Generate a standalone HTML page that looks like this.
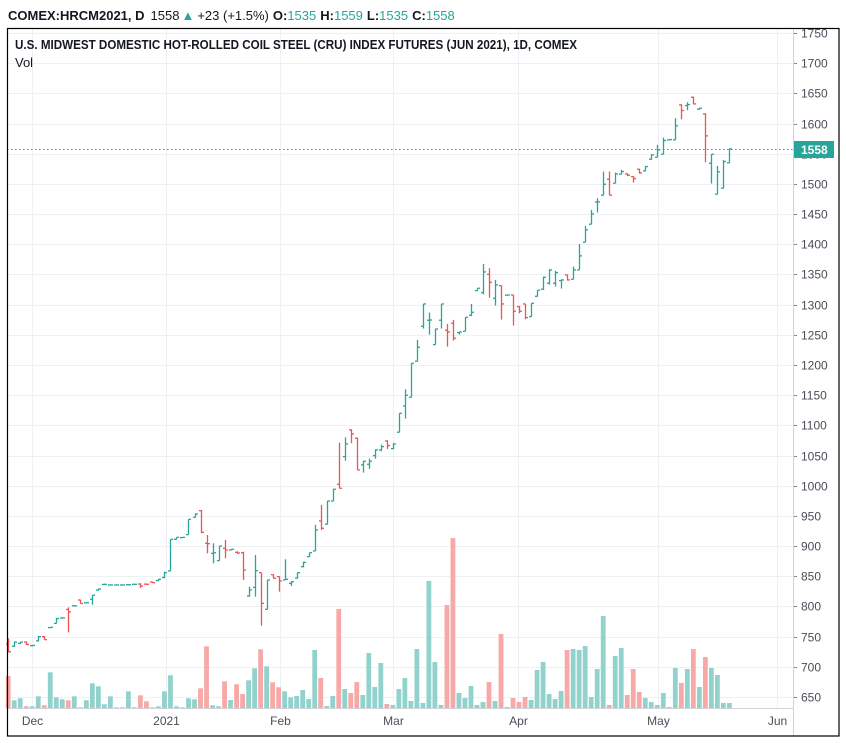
<!DOCTYPE html>
<html><head><meta charset="utf-8"><style>
body{margin:0;background:#fff;width:846px;height:743px;overflow:hidden;font-family:"Liberation Sans",sans-serif}
svg{position:absolute;left:0;top:0}
</style></head><body>
<svg id="c" width="846" height="743" xmlns="http://www.w3.org/2000/svg">
<g id="grid"></g>
<g id="vol"></g>
<g id="bars"></g>
<g id="axes"></g>
<text x="8" y="20" font-size="13" fill="#131722"><tspan font-weight="bold">COMEX:HRCM2021, D</tspan><tspan dx="6">1558</tspan><tspan fill="#26a69a" dx="2">▲</tspan><tspan dx="3">+23 (+1.5%)</tspan><tspan font-weight="bold" dx="4">O:</tspan><tspan fill="#26a69a">1535</tspan><tspan font-weight="bold" dx="4">H:</tspan><tspan fill="#26a69a">1559</tspan><tspan font-weight="bold" dx="4">L:</tspan><tspan fill="#26a69a">1535</tspan><tspan font-weight="bold" dx="4">C:</tspan><tspan fill="#26a69a">1558</tspan></text>
<text x="15" y="49" font-size="12.5" font-weight="bold" fill="#131722" textLength="562" lengthAdjust="spacingAndGlyphs">U.S. MIDWEST DOMESTIC HOT-ROLLED COIL STEEL (CRU) INDEX FUTURES (JUN 2021), 1D, COMEX</text>
<text x="15" y="67" font-size="13" fill="#131722">Vol</text>
</svg>
<script>
const opens=[738,734,739,741,735,743,750,765,772,781,795,801,810.7,806,812,827,836.5,835.6,835.6,835.6,836,836.7,837.2,837,840.5,842.8,848,858.8,911.2,914,919,947.7,958.7,904.6,888,875.9,896.3,893.6,889.7,889.1,817.3,831.7,856,795.2,852.7,849.4,843.9,838.3,847,866,882.5,892,941.7,936.2,974.8,1002.4,1048.3,1092.5,1078.7,1034.5,1035.6,1049.9,1059.3,1074.2,1061.5,1088.6,1132.2,1146.6,1206.2,1264.2,1274.2,1233.8,1274.2,1257.6,1269.2,1253.7,1256,1282.5,1323.3,1320,1350.4,1310.6,1331.6,1315.6,1316.1,1296.8,1301.2,1280.2,1313.9,1325.5,1335.5,1335.5,1339.9,1349.3,1342.1,1357.6,1403.4,1433.2,1470,1481.3,1507.8,1501.2,1516.1,1516.6,1512.2,1524.4,1521.6,1541,1544.2,1549.2,1573,1573,1631,1629.9,1643.6,1623.8,1616,1534.3,1483,1492.9,1535];
const highs=[747,742,741,742,736,751,751,766,781,782,798.6,802,811,807,819,829.5,837.5,836.5,836.5,836.5,837,837.5,838.3,838,841,845.5,857.7,911.2,914.5,915,944.4,954.3,959.8,918.4,904.6,900.2,910,895,891.5,890.8,832.8,885.3,856,843.9,853,850,878.1,842,856,874.2,889.1,935.1,968.2,974.8,995,1071.5,1080.3,1093.6,1079.8,1041.6,1045,1060.4,1068.1,1075.3,1070.4,1120.1,1159.8,1202.9,1241.6,1301.2,1286.9,1259.8,1301.2,1268.1,1274.7,1255,1279.1,1301.2,1327.2,1367.5,1360.3,1341,1331.6,1316.1,1316.1,1297.9,1301.2,1302.3,1323.9,1346.5,1358.7,1355.9,1342,1350,1363.1,1400.6,1430.5,1457,1476.3,1520.5,1520.5,1518.8,1523.3,1518,1513,1525,1529.5,1549,1564.7,1576.8,1574,1608.9,1632,1635.4,1644.8,1626,1617,1549.2,1529.9,1539.8,1559];
const lows=[724,733,738,736,734,742,745,764,772,780,757,800,805,805,803,826.5,835.5,834.6,834.6,834.6,835,835.7,830.6,836,839,842,846.6,858.8,911,913.5,919,947.7,921.2,888,871.5,875.9,879.8,893,887,843.9,816.2,816.2,768.2,795.2,846.6,824.5,843.9,834,846,864.8,882,892,926.8,936.2,974.8,995.8,1041.6,1070.4,1026.2,1021.8,1028,1044.9,1057.1,1061,1060.4,1088.6,1111.2,1146.6,1206.2,1260.4,1250.4,1233.8,1260.4,1230.5,1240.5,1250.4,1256,1280.8,1323,1317.2,1311.7,1298.5,1275.3,1315.6,1265.3,1285.8,1275.8,1280.2,1313.4,1324.4,1333.3,1330,1326.6,1340,1342.1,1357.6,1403.4,1433.2,1452.6,1481.3,1481.3,1501.2,1516.1,1513,1502.3,1517,1521,1540,1544.2,1549.2,1572,1573,1607.2,1622.1,1632,1623,1535.9,1500.6,1483,1492.9,1535];
const closes=[725,741,741,737,735.5,750,745,765.5,780,781,791,801,805,806,818.6,829,836.7,835.6,835.6,835.6,836,836.7,833.9,836.7,839.4,845,856,911.2,914.5,914.5,944.4,953.2,922.8,904,889,900.2,893.6,894.7,888.6,860.4,827.3,859.3,805.2,843.9,846.6,842.2,845,841,856,873.1,889.1,926.8,929.5,974.8,994.2,995.8,1069.3,1085.8,1026.2,1040.5,1040.5,1059.3,1064.8,1066.5,1069.3,1120.1,1149.9,1202.9,1229.4,1301.2,1274.6,1259.8,1301.2,1254.8,1244.3,1254.8,1279.1,1287.4,1327.2,1354.2,1337.1,1332.7,1301.2,1316.1,1289.1,1289.1,1278.6,1302.3,1323.9,1345.4,1357.5,1353.1,1341,1341,1357.6,1380.8,1423.8,1450.3,1470.3,1499.5,1481.3,1516.6,1520.5,1514.4,1508.9,1518.3,1528.8,1548.1,1556.4,1571.9,1573.5,1596.2,1621.6,1631.5,1632.6,1625.4,1579.6,1549.2,1520,1537.1,1558];
const volumes=[32,7.7,9.7,1.7,1.7,11.7,2.7,35.7,10.7,8.7,7.7,11.7,0.7,7.7,24.7,21.7,3.7,11.7,0.7,0.7,16.7,0.7,12.7,6.7,0.7,1.7,16.7,32.7,1.7,0.7,9.7,8.7,19.7,61.7,2.7,1.7,26.7,8,23.7,14,27.7,39.7,58.7,41.7,25.7,20.7,16.7,10.7,12,18,9,58,30,2,12,99,19,15,26,13,55,21,45,4,3,19,30,7,59,5,127,46,3,103,170,15,10,22,3,6,26,7,74,1,10,6,11,8,38,46,14,9,17,58,59,58,62,11,39,92,3,52,60,13,39,16,10,6,3,15,1,40,25,39,59,21,51,40,33,5,5];
const priceTicks=[650,700,750,800,850,900,950,1000,1050,1100,1150,1200,1250,1300,1350,1400,1450,1500,1550,1600,1650,1700,1750];
const monthLabels=["Dec","2021","Feb","Mar","Apr","May","Jun"];
const monthIndex=[4,26.3,45.3,64.1,84.8,108.1,128];
const lastPrice=1558;

const NS="http://www.w3.org/2000/svg";
const PL=7,PR=793,PT=28,PB=708;
function yP(v){return 697-(v-650)*0.6036;}
function xI(i){return 8.2+6.01*i;}
function yV(v){return PB-v;}
function mk(tag,attrs,parent){const e=document.createElementNS(NS,tag);for(const k in attrs)e.setAttribute(k,attrs[k]);parent.appendChild(e);return e;}
const G=document.getElementById('grid'),V=document.getElementById('vol'),B=document.getElementById('bars'),A=document.getElementById('axes');
priceTicks.forEach(t=>{const y=Math.round(yP(t))+0.5;
 const g=mk('line',{x1:PL,x2:PR,y1:y,y2:y,stroke:'#eef0f4','stroke-width':1},G);
 
 
 const tk=mk('line',{x1:PR,x2:PR+4,y1:y,y2:y,stroke:'#888','stroke-width':1},A);
 
 
 const lb=mk('text',{x:PR+8,y:y+4,'font-size':12,fill:'#4a4e58'},A);lb.textContent=t;
 
 
});
monthLabels.forEach((m,k)=>{const x=Math.round(xI(monthIndex[k]))+0.5;
 const g=mk('line',{x1:x,x2:x,y1:PT,y2:PB,stroke:'#eef0f4','stroke-width':1},G);
 
 
 const lb=mk('text',{x:x,y:725,'font-size':12,fill:'#4a4e58','text-anchor':'middle'},A);lb.textContent=m;
 
 
});
volumes.forEach((v,i)=>{const up=closes[i]>=opens[i];const x=xI(i);
 const r=mk('rect',{x:x-2.4,y:yV(v),width:4.8,height:v,fill:up?'#92d2cc':'#f7a9a7'},V);
 
 
});
opens.forEach((o,i)=>{const c=closes[i];const col=c>=o?'#26a69a':'#ef5350';const x=Math.round(xI(i))+0.5;
 const g=mk('g',{stroke:col,'stroke-width':1.3},B);
 
 
 mk('line',{x1:x,x2:x,y1:yP(highs[i]),y2:yP(lows[i])},g);
 mk('line',{x1:x-2.5,x2:x,y1:yP(o),y2:yP(o)},g);
 mk('line',{x1:x,x2:x+2.5,y1:yP(c),y2:yP(c)},g);
});
const ly=Math.round(yP(lastPrice))+0.5;
const dl=mk('line',{x1:PL,x2:PR,y1:ly,y2:ly,stroke:'#26a69a','stroke-width':1,'stroke-dasharray':'1.5 2.5'},A);


const bx=mk('rect',{x:PR,y:ly-8.5,width:41,height:17,fill:'#26a69a'},A);


const bt=mk('text',{x:PR+8,y:ly+4.5,'font-size':12,'font-weight':'bold',fill:'#fff'},A);bt.textContent=lastPrice;


const s1=mk('line',{x1:PR+0.5,x2:PR+0.5,y1:PT,y2:736,stroke:'#d0d3da','stroke-width':1},A);


const s2=mk('line',{x1:PL,x2:PR,y1:PB+0.5,y2:PB+0.5,stroke:'#d0d3da','stroke-width':1},A);


const fr=mk('rect',{x:7.5,y:28.5,width:831.5,height:707.5,fill:'none',stroke:'#000','stroke-width':1.2},A);


</script>
</body></html>
